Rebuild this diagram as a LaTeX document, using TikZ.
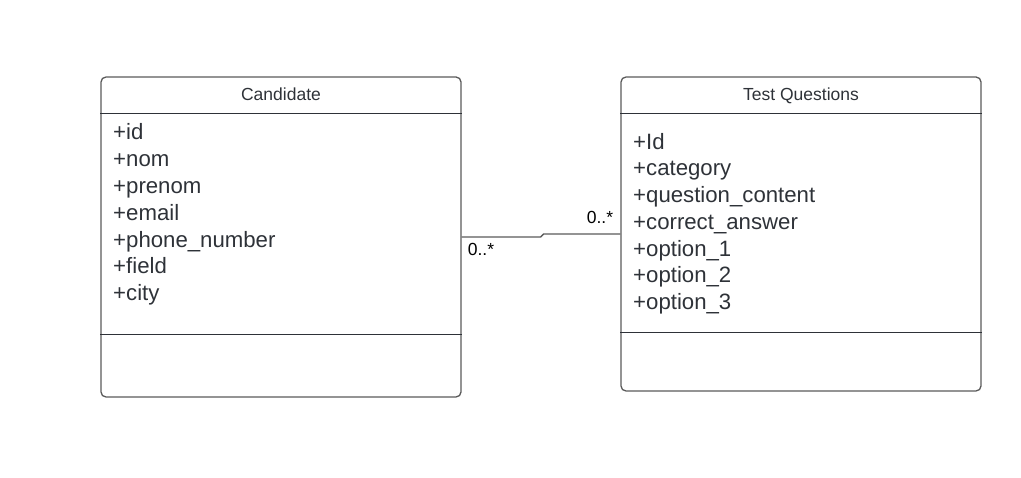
\documentclass[tikz,border=0pt]{standalone}
\usepackage{fontspec}
\setmainfont{Liberation Sans}
\usetikzlibrary{positioning,calc}
\definecolor{linegray}{HTML}{5A5A5A}
\definecolor{textgray}{HTML}{2E3238}

\begin{document}
\begin{tikzpicture}[
    x=1pt, y=-1pt,
    classbox/.style={draw=linegray, line width=1.3pt, rounded corners=5pt, minimum width=360pt, inner sep=0pt},
    title/.style={text=textgray, font=\fontsize{17.5}{20}\selectfont, inner sep=0pt, anchor=base},
    attrs/.style={text=textgray, font=\fontsize{22.2}{26.8}\selectfont, align=left, inner sep=0pt, anchor=base west},
    sep/.style={draw=textgray, line width=1.3pt},
    mult/.style={font=\fontsize{17.5}{20}\selectfont, inner sep=0pt},
    assoc/.style={draw=linegray, line width=1.3pt}
]
    \useasboundingbox (0,0) rectangle (1021,478);

    % Candidate class
    \node[classbox, minimum height=320pt] (cand) at (281,237) {};
    \node[title] (candtitle) at (281,100.2) {Candidate};
    \node[attrs] (candattrs) at (113,300.8) {+id\\+nom\\+prenom\\+email\\+phone\_number\\+field\\+city};
    \draw[sep] ($(cand.north west)+(0,37)$) -- ($(cand.north east)+(0,37)$);
    \draw[sep] ($(cand.north west)+(0,258)$) -- ($(cand.north east)+(0,258)$);

    % Test Questions class
    \node[classbox, minimum height=314pt] (tq) at (801,234) {};
    \node[title] (tqtitle) at (801,100.2) {Test Questions};
    \node[attrs] (tqattrs) at (633,309.8) {+Id\\+category\\+question\_content\\+correct\_answer\\+option\_1\\+option\_2\\+option\_3};
    \draw[sep] ($(tq.north west)+(0,37)$) -- ($(tq.north east)+(0,37)$);
    \draw[sep] ($(tq.north west)+(0,256)$) -- ($(tq.north east)+(0,256)$);

    % association
    \draw[assoc] (cand.east) -- ++(79,0) -- ++(3,-3) -- (tq.west);
    \node[mult] (multcand) at (481,249) {0..*};
    \node[mult] (multtq) at (600,217) {0..*};
\end{tikzpicture}
\end{document}
